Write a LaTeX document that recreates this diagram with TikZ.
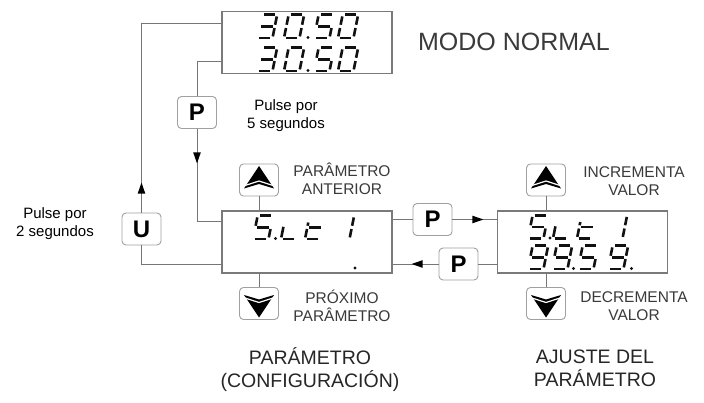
\documentclass[tikz,border=0pt]{standalone}
\usepackage{fontspec}
\setmainfont{Liberation Sans}
\usetikzlibrary{arrows.meta,decorations.markings}
\definecolor{linegray}{HTML}{767676}
\definecolor{boxgray}{HTML}{7A7A7A}
\definecolor{btngray}{HTML}{A0A0A0}
\definecolor{labelgray}{HTML}{3A3A3A}
\definecolor{segcol}{HTML}{111111}
% seven segment pieces (local units: x 0..1, y 0..2, y up)
\def\SgA{(0.14,2)--(0.86,2)}
\def\SgB{(1,1.86)--(1,1.14)}
\def\SgC{(1,0.86)--(1,0.14)}
\def\SgD{(0.14,0)--(0.86,0)}
\def\SgE{(0,0.14)--(0,0.86)}
\def\SgF{(0,1.14)--(0,1.86)}
\def\SgG{(0.14,1)--(0.86,1)}
\def\SgT{(0,1.14)--(0,1.42)}
\def\SgEL{(0,0.14)--(0,1.05)}
\def\chThree{\SgA,\SgB,\SgG,\SgC,\SgD}
\def\chZero{\SgA,\SgB,\SgC,\SgD,\SgE,\SgF}
\def\chFive{\SgA,\SgF,\SgG,\SgC,\SgD}
\def\chL{\SgEL,\SgD}
\def\chT{\SgT,\SgG,\SgE,\SgD}
\def\chOne{\SgB,\SgC}
\def\chNine{\SgA,\SgB,\SgC,\SgD,\SgF,\SgG}
\newcommand\sevseg[3]{%
  \begin{scope}[shift={(#1,#2)},x=15.5pt,y=11.6pt,xslant=0.2]
    \foreach \s in #3 {\draw[segline] \s;}
  \end{scope}}
\newcommand\sevdp[2]{\fill[segcol] (#1,#2) circle[radius=1.6pt];}
\newcommand\upicon[1]{%
  \begin{scope}[shift={(#1.center)}]
    \fill[black] (0,-14) -- (15,8.5) -- (0,4) -- (-15,8.5) -- cycle;
    \draw[white,line width=1.2pt] (-14,5.5) -- (0,1) -- (14,5.5);
  \end{scope}}
\newcommand\dnicon[1]{%
  \begin{scope}[shift={(#1.center)}]
    \fill[black] (0,14) -- (15,-8.5) -- (0,-4) -- (-15,-8.5) -- cycle;
    \draw[white,line width=1.2pt] (-14,-5.5) -- (0,-1) -- (14,-5.5);
  \end{scope}}
\begin{document}
\begin{tikzpicture}[x=1pt,y=-1pt,
  disp/.style={draw=boxgray,line width=1.1pt,minimum width=170pt,minimum height=62pt,inner sep=0pt,fill=white},
  btn/.style={draw=btngray,line width=0.9pt,rounded corners=4pt,minimum width=39pt,minimum height=32pt,inner sep=0pt,fill=white,font=\fontsize{24}{24}\selectfont\bfseries},
  conn/.style={draw=linegray,line width=0.9pt},
  segline/.style={draw=segcol,line width=2.6pt},
  arrowat/.style={postaction={decorate},decoration={markings,mark=at position #1 with {\fill[black] (0,0) -- (-11,3.8) -- (-11,-3.8) -- cycle;}}},
  lbl/.style={font=\fontsize{15.5}{18}\selectfont,text=labelgray,align=center,inner sep=0pt},
  note/.style={font=\fontsize{15}{18}\selectfont,text=black,align=center,inner sep=0pt},
  title/.style={font=\fontsize{19.5}{23}\selectfont,text=black!85,align=center,inner sep=0pt}]
\useasboundingbox (0,0) rectangle (704,403);
\fill[white] (0,0) rectangle (704,403);

% displays
\node[disp] (tbox) at (307,42.5) {};
\node[disp] (mbox) at (307,242) {};
\node[disp] (rbox) at (582.5,242) {};

% buttons
\node[btn] (pa) at (197,112.5) {P};
\node[btn] (ubtn) at (141.5,229) {U};
\node[btn] (p2) at (432.5,219.5) {P};
\node[btn] (p3) at (458.5,264) {P};
\node[btn] (upA) at (259,180) {};
\node[btn] (dnA) at (259,303.5) {};
\node[btn] (upB) at (546,180) {};
\node[btn] (dnB) at (546,303.5) {};
\upicon{upA}\upicon{upB}\dnicon{dnA}\dnicon{dnB}

% connectors
\coordinate (lt) at (141.5,23);
\coordinate (lb) at (141.5,264);
\coordinate (pt) at (197,61);
\coordinate (pb) at (197,221);
\draw[conn,arrowat=30pt] (ubtn.north) -- (lt) -- (tbox.west |- lt);
\draw[conn] (ubtn.south) -- (lb) -- (mbox.west |- lb);
\draw[conn] (tbox.west |- pt) -- (pt) -- (pa.north);
\draw[conn,arrowat=34.5pt] (pa.south) -- (pb) -- (mbox.west |- pb);
\draw[conn] (mbox.east |- p2) -- (p2.west);
\draw[conn,arrowat=31pt] (p2.east) -- (rbox.west |- p2);
\draw[conn] (rbox.west |- p3) -- (p3.east);
\draw[conn,arrowat=27pt] (p3.west) -- (mbox.east |- p3);
\draw[conn] (upA.south) -- (upA.south |- mbox.north);
\draw[conn] (dnA.north) -- (dnA.north |- mbox.south);
\draw[conn] (upB.south) -- (upB.south |- rbox.north);
\draw[conn] (dnB.north) -- (dnB.north |- rbox.south);

% display contents: top (30.50 / 30.50)
\sevseg{257}{38}{\chThree}\sevseg{284}{38}{\chZero}\sevdp{308}{37.5}
\sevseg{314}{38}{\chFive}\sevseg{338}{38}{\chZero}
\sevseg{257}{71}{\chThree}\sevseg{284}{71}{\chZero}\sevdp{308}{70.5}
\sevseg{314}{71}{\chFive}\sevseg{338}{71}{\chZero}
% middle (S.Lt1 / .)
\sevseg{253}{239}{\chFive}\sevdp{275.5}{238.5}
\sevseg{281}{239}{\chL}\sevseg{305}{239}{\chT}\sevseg{334}{239}{\chOne}
\sevdp{355}{268}
% right (S.Lt1 / 99.59.)
\sevseg{528}{238.5}{\chFive}\sevdp{550}{238}
\sevseg{553}{238.5}{\chL}\sevseg{577}{238.5}{\chT}\sevseg{607}{238.5}{\chOne}
\sevseg{528}{269}{\chNine}\sevseg{552}{269}{\chNine}\sevdp{573.5}{268.5}
\sevseg{578}{269}{\chFive}\sevseg{608}{269}{\chNine}\sevdp{631.5}{268.5}

% texts
\node[font=\fontsize{25}{28}\selectfont,text=labelgray,inner sep=0pt] (modo) at (514,42) {MODO NORMAL};
\node[note] (n5) at (286,116) {Pulse por\\5 segundos};
\node[note] (n2) at (55,224) {Pulse por\\2 segundos};
\node[lbl] (la) at (342,179) {PARÂMETRO\\ANTERIOR};
\node[lbl] (lp) at (342,306) {PRÓXIMO\\PARÂMETRO};
\node[lbl] (li) at (634,181) {INCREMENTA\\VALOR};
\node[lbl] (ld) at (634,306) {DECREMENTA\\VALOR};
\node[title] (tp) at (310,369.5) {PARÁMETRO\\(CONFIGURACIÓN)};
\node[title] (ta) at (595,368.5) {AJUSTE DEL\\PARÁMETRO};
\end{tikzpicture}
\end{document}
